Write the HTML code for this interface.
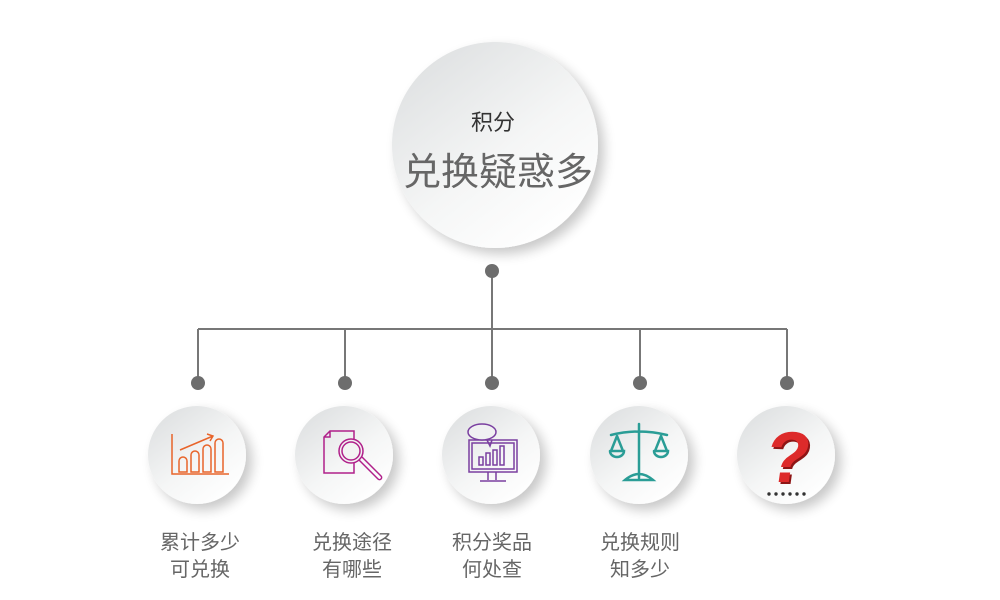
<!DOCTYPE html>
<html><head><meta charset="utf-8"><style>
html,body{margin:0;padding:0;background:#fff;}
svg{display:block;}
text{font-family:"Liberation Sans","Noto Sans CJK SC",sans-serif;}
</style></head><body>
<svg width="1000" height="600" viewBox="0 0 1000 600" xmlns="http://www.w3.org/2000/svg">
<defs>
<linearGradient id="g" x1="0.15" y1="0.1" x2="0.8" y2="0.95">
<stop offset="0" stop-color="#e0e2e3"/><stop offset="0.55" stop-color="#f5f6f6"/><stop offset="1" stop-color="#ffffff"/>
</linearGradient>
<filter id="sh" x="-30%" y="-30%" width="170%" height="170%">
<feGaussianBlur in="SourceAlpha" stdDeviation="6"/><feOffset dx="6" dy="6"/>
<feComponentTransfer><feFuncA type="linear" slope="0.22"/></feComponentTransfer>
<feMerge><feMergeNode/><feMergeNode in="SourceGraphic"/></feMerge>
</filter>
</defs>
<circle cx="495" cy="145" r="103" fill="url(#g)" filter="url(#sh)"/>
<text x="493" y="130" font-size="22" fill="#333" text-anchor="middle">积分</text>
<text x="498" y="185" font-size="38" fill="#666" text-anchor="middle">兑换疑惑多</text>
<g stroke="#777" stroke-width="2" fill="none">
<line x1="492" y1="271" x2="492" y2="329"/>
<line x1="198" y1="329" x2="787" y2="329"/>
<line x1="198" y1="329" x2="198" y2="383"/>
<line x1="345" y1="329" x2="345" y2="383"/>
<line x1="492" y1="329" x2="492" y2="383"/>
<line x1="640" y1="329" x2="640" y2="383"/>
<line x1="787" y1="329" x2="787" y2="383"/>
</g>
<g fill="#6d6d6d">
<circle cx="492" cy="271" r="7"/>
<circle cx="198" cy="383" r="7"/><circle cx="345" cy="383" r="7"/><circle cx="492" cy="383" r="7"/><circle cx="640" cy="383" r="7"/><circle cx="787" cy="383" r="7"/>
</g>
<g filter="url(#sh)" fill="url(#g)">
<circle cx="197" cy="455" r="49"/><circle cx="344" cy="455" r="49"/><circle cx="491" cy="455" r="49"/><circle cx="639" cy="455" r="49"/><circle cx="786" cy="455" r="49"/>
</g>
<g stroke="#e8642a" stroke-width="1.5" fill="none">
<path d="M172 434 V474 H229"/>
<path d="M179 472 V461 a4 4 0 0 1 8 0 V472 Z"/>
<path d="M191 472 V455 a4 4 0 0 1 8 0 V472 Z"/>
<path d="M203 472 V449 a4 4 0 0 1 8 0 V472 Z"/>
<path d="M215 472 V443 a4 4 0 0 1 8 0 V472 Z"/>
<path d="M180 450 L213 436 M207 434 L213 436 L210 441"/>
</g>
<g stroke="#b0208a" stroke-width="1.5" fill="none">
<path d="M330 431 H354 V473 H324 V437 Z M324 437 H330 V431"/>
<circle cx="351" cy="451" r="12" fill="#f3f3f3"/><circle cx="351" cy="451" r="9"/>
<path d="M359 460 L378 479 a2 2 0 0 0 3 -3 L362 457"/>
</g>
<g stroke="#7a3fa0" stroke-width="1.5" fill="none">
<rect x="469" y="440" width="48" height="32"/><rect x="472" y="443" width="42" height="26"/>
<path d="M488 472 V480 M496 472 V480 M480 481 H506"/>
<ellipse cx="482" cy="432" rx="14" ry="8" fill="#f0f0f2"/>
<path d="M487 440 L490 446 L492 440"/>
<rect x="479" y="457" width="4" height="8"/><rect x="486" y="453" width="4" height="12"/><rect x="493" y="450" width="4" height="15"/><rect x="500" y="446" width="4" height="19"/>
</g>
<g stroke="#2a9d96" stroke-width="2.5" fill="none" stroke-linecap="round">
<path d="M639 424 V478 M611 435 Q639 428 667 435"/>
<path d="M617 436 L611 451 M617 436 L623 451 M610 451 H624 a7 6 0 0 1 -14 0"/>
<path d="M661 436 L655 451 M661 436 L667 451 M654 451 H668 a7 6 0 0 1 -14 0"/>
<path d="M625 480 Q639 468 653 480 Z"/>
</g>
<text x="786" y="484" font-size="72" font-weight="bold" fill="#8e1515" text-anchor="middle" font-family="Liberation Sans,sans-serif" transform="translate(69 0) skewX(-8)">?</text>
<text x="784" y="482" font-size="72" font-weight="bold" fill="#dd2a2a" text-anchor="middle" font-family="Liberation Sans,sans-serif" transform="translate(69 0) skewX(-8)">?</text>
<g fill="#333"><circle cx="769" cy="494" r="1.7"/><circle cx="776" cy="494" r="1.7"/><circle cx="783" cy="494" r="1.7"/><circle cx="790" cy="494" r="1.7"/><circle cx="797" cy="494" r="1.7"/><circle cx="804" cy="494" r="1.7"/></g>
<g font-size="20" fill="#666" text-anchor="middle">
<text x="200" y="549">累计多少</text><text x="200" y="576">可兑换</text>
<text x="352" y="549">兑换途径</text><text x="352" y="576">有哪些</text>
<text x="492" y="549">积分奖品</text><text x="492" y="576">何处查</text>
<text x="640" y="549">兑换规则</text><text x="640" y="576">知多少</text>
</g>
</svg>
</body></html>
